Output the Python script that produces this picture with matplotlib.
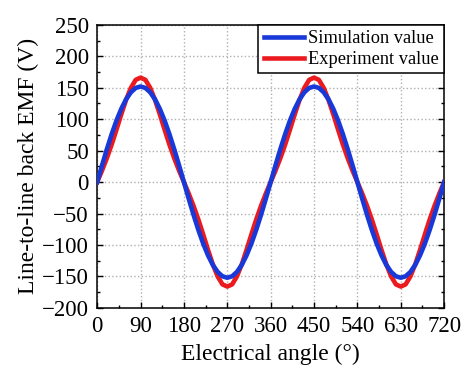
import numpy as np
import matplotlib
matplotlib.use("Agg")
import matplotlib.pyplot as plt
from matplotlib.ticker import MultipleLocator

plt.rcParams['font.family'] = ['Liberation Serif', 'DejaVu Serif']

# electrical angle, deg (10 deg steps)
angle = list(range(0, 721, 10))

sim_half = [0, 26.4, 52.0, 76.0, 97.7, 116.4, 131.6, 142.8, 149.7, 152.0,
            149.7, 142.8, 131.6, 116.4, 97.7, 76.0, 52.0, 26.4]
exp_half = [0, 18.2, 37.8, 59.5, 83.2, 107.7, 130.8, 149.9, 162.6, 166.0,
            162.6, 149.9, 130.8, 107.7, 83.2, 59.5, 37.8, 18.2]

sim_val = sim_half + [-v for v in sim_half] + sim_half + [-v for v in sim_half] + [0]
exp_val = exp_half + [-v for v in exp_half] + exp_half + [-v for v in exp_half] + [0]

fig = plt.figure(figsize=(4.74, 3.76), dpi=100)
ax = fig.add_axes([0.205, 0.181, 0.732, 0.753])

ax.plot(angle, exp_val, color='#ea1a1e', lw=3.3, label='Experiment value', zorder=3)
ax.plot(angle, sim_val, color='#1838d8', lw=3.3, label='Simulation value', zorder=4)

ax.set_xlim(0, 720)
ax.set_ylim(-200, 250)
ax.xaxis.set_major_locator(MultipleLocator(90))
ax.xaxis.set_minor_locator(MultipleLocator(45))
ax.yaxis.set_major_locator(MultipleLocator(50))
ax.yaxis.set_minor_locator(MultipleLocator(25))
ax.tick_params(which='both', direction='in', right=True, top=False, labelsize=16.5)
ax.tick_params(which='major', length=4.5, width=1, pad=6)
ax.tick_params(which='minor', length=2.5, width=1)
ax.grid(True, which='major', ls=':', color='#b0b0b0', lw=1)
for s in ax.spines.values():
    s.set_linewidth(1.1)

ax.set_xlabel('Electrical angle (°)', fontsize=17, labelpad=5)
ax.set_ylabel('Line-to-line back EMF (V)', fontsize=17, labelpad=2)

h, l = ax.get_legend_handles_labels()
leg = ax.legend(h[::-1], l[::-1], loc='upper right', fontsize=13.2, fancybox=False,
                edgecolor='black', framealpha=1, borderpad=0.3, handlelength=2.2,
                handletextpad=0.2, labelspacing=0.2, borderaxespad=0)
leg.get_frame().set_linewidth(1.1)

fig.savefig('out.png', dpi=100)
